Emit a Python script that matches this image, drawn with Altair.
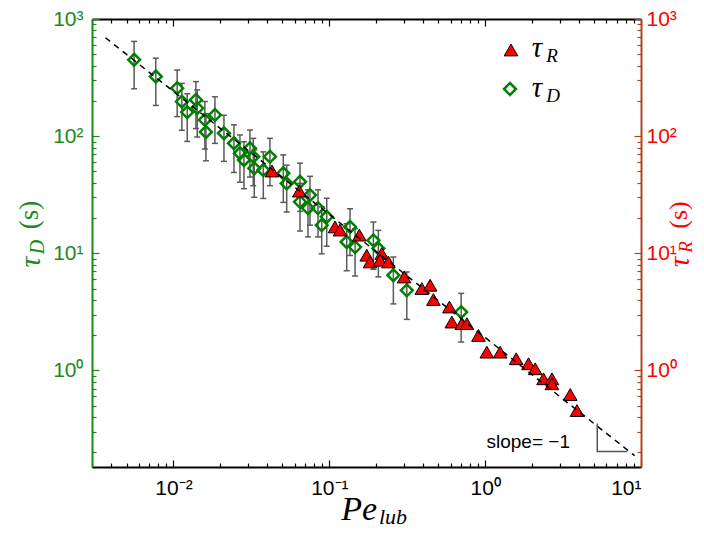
import altair as alt
import pandas as pd

# ---------------- data ----------------
pe_D = [0.00559, 0.00770, 0.01056, 0.01132, 0.01225, 0.01393, 0.0142, 0.0159, 0.01615, 0.01845,
        0.02108, 0.02443, 0.0267, 0.02833, 0.03095, 0.0325, 0.03299, 0.03769, 0.0416, 0.05066,
        0.05327, 0.06484, 0.06484, 0.07516, 0.07297, 0.08461, 0.09623, 0.08937, 0.1358, 0.1293,
        0.1463, 0.1917, 0.2064, 0.2576, 0.3142, 0.7014]
tau_D = [448.7, 322.9, 256.9, 197.3, 160.2, 204.0, 173.3, 137.6, 108.6, 151.8,
         105.9, 87.0, 71.4, 62.6, 78.8, 66.8, 53.1, 51.4, 66.8, 48.2,
         39.5, 40.8, 27.5, 31.4, 24.3, 24.3, 20.5, 17.4, 16.8, 12.5,
         11.3, 12.9, 11.0, 6.50, 4.83, 3.15]
err_D = [195, 140, 110, 85, 70, 88, 75, 60, 47, 65,
         45, 38, 31, 27, 34, 29, 23, 22, 29, 21,
         17, 18, 12, 14, 10.5, 10.5, 9, 7.5, 7.2, 5.4,
         4.9, 5.6, 4.7, 2.8, 2.1, 1.4]

pe_R = [0.04285, 0.0642, 0.1088, 0.1171, 0.1558, 0.1738, 0.1825, 0.2170, 0.2117, 0.2393,
        0.3019, 0.3922, 0.4434, 0.4656, 0.5898, 0.6111, 0.7086, 0.7631, 0.9058, 1.025,
        1.248, 1.582, 1.897, 2.095, 2.368, 2.682, 2.682, 3.515, 3.882]
tau_R = [50.4, 34.0, 16.8, 15.8, 14.3, 9.63, 8.44, 9.96, 8.73, 8.44,
         6.28, 5.00, 5.34, 4.03, 3.48, 2.59, 2.51, 2.51, 1.99, 1.434,
         1.434, 1.259, 1.141, 1.034, 0.849, 0.849, 0.770, 0.623, 0.455]

fit_pe = [0.00366, 9.1]
fit_tau = [692, 0.1875]

slope_pe = [5.24, 5.24, 8.17]
slope_tau = [0.352, 0.203, 0.203]
slope_text = ["slope= \u22121"]
slope_text_pe = [1.89]
slope_text_tau = [0.247]

x_major = [0.01, 0.1, 1, 10]
x_minor = [0.003, 0.004, 0.005, 0.006, 0.007, 0.008, 0.009,
           0.02, 0.03, 0.04, 0.05, 0.06, 0.07, 0.08, 0.09,
           0.2, 0.3, 0.4, 0.5, 0.6, 0.7, 0.8, 0.9,
           2, 3, 4, 5, 6, 7, 8, 9]
y_major = [1, 10, 100, 1000]
y_minor = [0.2, 0.3, 0.4, 0.5, 0.6, 0.7, 0.8, 0.9,
           2, 3, 4, 5, 6, 7, 8, 9,
           20, 30, 40, 50, 60, 70, 80, 90,
           200, 300, 400, 500, 600, 700, 800, 900]
exp_labels = {-2: "10\u207b\u00b2", -1: "10\u207b\u00b9", 0: "10\u2070",
              1: "10\u00b9", 2: "10\u00b2", 3: "10\u00b3"}

# ---------------- style ----------------
W, H = 549, 448
X0, Y0 = 92, 19           # page position of plot origin
GREEN = "#008000"
GREEN_TXT = "#1a8a1a"
RED = "#ff0000"
BROWN = "#b0461e"
GRAY = "#5a5a5a"

xs = alt.Scale(type="log", domain=[0.003, 10], nice=False)
ys = alt.Scale(type="log", domain=[0.15, 1000], nice=False)

lab = "''"
for k, v in exp_labels.items():
    lab = f"round(log(datum.value)/LN10) == {k} ? '{v}' : " + lab

tick_cond = {"condition": {"test": "abs(log(datum.value)/LN10 - round(log(datum.value)/LN10)) < 0.001",
                           "value": 7}, "value": 4}

XA = alt.Axis(orient="bottom", values=x_major, labelExpr=lab, ticks=False, tickSize=0,
              domainColor="black", domainWidth=2, labelFont="Liberation Sans", labelFontSize=21,
              labelColor="black", labelPadding=10, grid=False, title=None)
XB = alt.Axis(orient="top", offset=-H, values=x_major + x_minor, ticks=True, tickColor="black",
              tickWidth=1.2, tickSize=tick_cond, labels=False, domain=False, grid=False, title=None)
XC = alt.Axis(orient="bottom", offset=-H, values=x_major + x_minor, ticks=True, tickColor="black",
              tickWidth=1.2, tickSize=tick_cond, labels=False, domain=True, domainColor="black",
              domainWidth=2, grid=False, title=None)
YA = alt.Axis(orient="left", values=y_major, labelExpr=lab, ticks=False, tickSize=0,
              domainColor=GREEN_TXT, domainWidth=2, labelFont="Liberation Sans", labelFontSize=21,
              labelColor=GREEN_TXT, labelPadding=9, grid=False, title=None)
YB = alt.Axis(orient="right", offset=-W, values=y_major + y_minor, ticks=True, tickColor=GREEN_TXT,
              tickWidth=1.2, tickSize=tick_cond, labels=False, domain=False, grid=False, title=None)
YC = alt.Axis(orient="right", values=y_major, labelExpr=lab, ticks=False, tickSize=0,
              domainColor=BROWN, domainWidth=2, labelFont="Liberation Sans", labelFontSize=21,
              labelColor=RED, labelPadding=5, grid=False, title=None)
YD = alt.Axis(orient="left", offset=-W, values=y_major + y_minor, ticks=True, tickColor=BROWN,
              tickWidth=1.2, tickSize=tick_cond, labels=False, domain=False, grid=False, title=None)

dD = pd.DataFrame({"pe": pe_D, "tau": tau_D,
                   "lo": [t - e for t, e in zip(tau_D, err_D)],
                   "hi": [t + e for t, e in zip(tau_D, err_D)]})
dR = pd.DataFrame({"pe": pe_R, "tau": tau_R})
dFit = pd.DataFrame({"pe": fit_pe, "tau": fit_tau})
dSlope = pd.DataFrame({"pe": slope_pe, "tau": slope_tau, "o": list(range(len(slope_pe)))})
dSlopeT = pd.DataFrame({"pe": slope_text_pe, "tau": slope_text_tau, "t": slope_text})

rules = alt.Chart(dD).mark_rule(color=GRAY, strokeWidth=1.5).encode(
    x=alt.X("pe:Q", scale=xs, axis=XA),
    y=alt.Y("lo:Q", scale=ys, axis=YA),
    y2="hi:Q")
caps_lo = alt.Chart(dD).mark_tick(orient="horizontal", size=6, thickness=1.5, color=GRAY, opacity=1).encode(
    x=alt.X("pe:Q", scale=xs, axis=XB),
    y=alt.Y("lo:Q", scale=ys, axis=YB))
caps_hi = alt.Chart(dD).mark_tick(orient="horizontal", size=6, thickness=1.5, color=GRAY, opacity=1).encode(
    x=alt.X("pe:Q", scale=xs, axis=XC),
    y=alt.Y("hi:Q", scale=ys, axis=YC))
diamonds = alt.Chart(dD).mark_point(shape="diamond", filled=False, color=GREEN, strokeWidth=2.5,
                                    size=140, opacity=1).encode(
    x=alt.X("pe:Q", scale=xs, axis=None),
    y=alt.Y("tau:Q", scale=ys, axis=YD))
triangles = alt.Chart(dR).mark_point(shape="triangle-up", filled=True, fill=RED, stroke="black",
                                     strokeWidth=1, size=185, opacity=1).encode(
    x=alt.X("pe:Q", scale=xs, axis=None),
    y=alt.Y("tau:Q", scale=ys, axis=None))
fit = alt.Chart(dFit).mark_line(color="black", strokeWidth=1.5, strokeDash=[6, 5]).encode(
    x=alt.X("pe:Q", scale=xs, axis=None),
    y=alt.Y("tau:Q", scale=ys, axis=None))
slope = alt.Chart(dSlope).mark_line(color="#555555", strokeWidth=1.5).encode(
    x=alt.X("pe:Q", scale=xs, axis=None),
    y=alt.Y("tau:Q", scale=ys, axis=None),
    order="o:Q")
slope_lbl = alt.Chart(dSlopeT).mark_text(font="Liberation Sans", fontSize=19, color="black",
                                         align="center", baseline="middle").encode(
    x=alt.X("pe:Q", scale=xs, axis=None),
    y=alt.Y("tau:Q", scale=ys, axis=None),
    text="t:N")


def txt(s, px, py, size, color="black", font="Liberation Serif", style="italic", angle=0,
        align="center", baseline="middle"):
    kw = dict(font=font, fontSize=size, fontStyle=style, color=color, align=align, baseline=baseline)
    if angle:
        kw["angle"] = angle
    return alt.Chart(pd.DataFrame({"t": [s]})).mark_text(**kw).encode(
        text="t:N", x=alt.value(px - X0), y=alt.value(py - Y0))


def glyph(shape, px, py, **mk):
    return alt.Chart(pd.DataFrame({"t": [shape]})).mark_point(shape=shape, opacity=1, **mk).encode(
        x=alt.value(px - X0), y=alt.value(py - Y0))


texts = [
    # x title  Pe_lub
    txt("Pe", 377, 520, 34, align="right", baseline="alphabetic"),
    txt("lub", 379, 524, 22, align="left", baseline="alphabetic"),
    # left title  tau_D (s)
    txt("\u03c4", 31, 262, 30, color=GREEN_TXT, angle=270),
    txt("D", 38, 247, 20, color=GREEN_TXT, angle=270),
    txt("(s)", 30, 215, 27, color=GREEN_TXT, style="normal", angle=270),
    # right title  tau_R (s)
    txt("\u03c4", 680, 262, 29, color=RED, angle=270),
    txt("R", 686, 247, 19, color=RED, angle=270),
    txt("(s)", 679, 215, 26, color=RED, style="normal", angle=270),
    # legend
    txt("\u03c4", 537, 48, 29),
    txt("R", 552, 56, 19),
    txt("\u03c4", 537, 88, 29),
    txt("D", 553, 96, 19),
]
legend = [
    glyph("triangle-up", 511, 50, filled=True, fill=RED, stroke="black", strokeWidth=1, size=185),
    glyph("diamond", 510, 89, filled=False, color=GREEN, strokeWidth=2.5, size=140),
]

chart = alt.layer(rules, caps_lo, caps_hi, diamonds, triangles, fit, slope, slope_lbl,
                  *texts, *legend).resolve_axis(
    x="independent", y="independent"
).properties(
    width=W, height=H,
    autosize=alt.AutoSizeParams(type="none"),
    padding={"left": X0 - 8, "top": Y0 - 8, "right": 696 - X0 - W, "bottom": 62},
    background="white",
).configure_view(strokeWidth=0)

chart.save("out.html", embed_options={"renderer": "svg", "actions": False})
